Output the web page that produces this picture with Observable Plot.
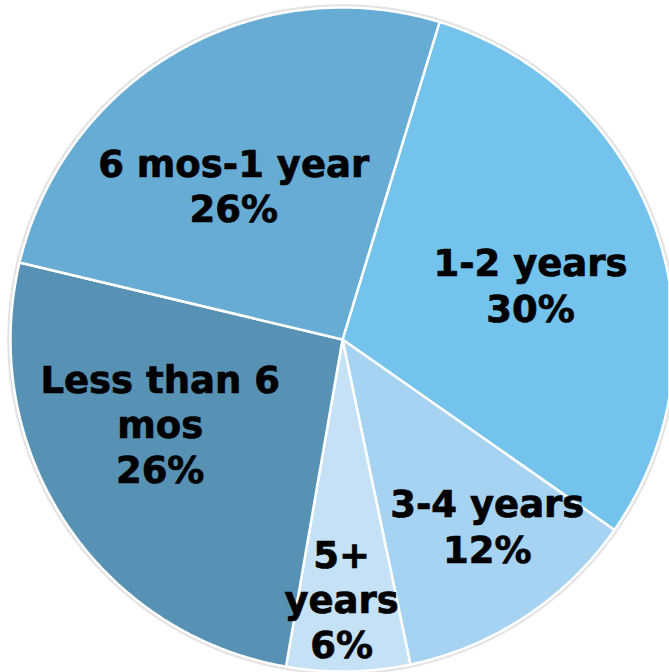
<!DOCTYPE html>
<html><head><meta charset="utf-8">
<script src="https://cdn.jsdelivr.net/npm/d3@7"></script>
<script src="https://cdn.jsdelivr.net/npm/@observablehq/plot@0.6"></script>
<style>html,body{margin:0;padding:0;background:#fff;overflow:hidden} svg{display:block}</style>
</head><body><div id="chart"></div>
<script>
// ---- data ----
const categories = ["1-2 years", "3-4 years", "5+ years", "Less than 6 mos", "6 mos-1 year"];
const labelTexts = ["1-2 years", "3-4 years", "5+\nyears", "Less than 6\nmos", "6 mos-1 year"];
const values = [30, 12, 6, 26, 26];
const colors = ["#73C3EC", "#A6D3F1", "#C5E1F6", "#5792B4", "#67ACD4"];

// ---- layout ----
const W = 669, H = 672;
const R = 332;
const startAngleDeg = 17;
const labelAngleDeg = [73.7, 142.1, 180.2, 245.2, 324.9];
const labelRadius = [0.59, 0.71, 0.78, 0.605, 0.57];
const viewDomain = {type: "MultiPoint", coordinates: [[-342, -339], [327, 333]]};

const rad = Math.PI / 180;
const pie = d3.pie().sort(null).value(d => d)
  .startAngle(startAngleDeg * rad).endAngle(startAngleDeg * rad + 2 * Math.PI)(values);

function pt(a, r) { return [r * Math.sin(a), -r * Math.cos(a)]; }

const slices = pie.map((p, i) => {
  const ring = [[0, 0]];
  const n = Math.max(2, Math.ceil((p.endAngle - p.startAngle) / (0.4 * rad)));
  for (let k = 0; k <= n; k++) ring.push(pt(p.startAngle + (p.endAngle - p.startAngle) * k / n, R));
  ring.push([0, 0]);
  return {type: "Feature", properties: {category: categories[i]}, geometry: {type: "Polygon", coordinates: [ring]}};
});

const halo = (() => {
  const ring = [];
  for (let k = 0; k <= 720; k++) ring.push(pt(k * 0.5 * rad, R + 1.5));
  return {type: "Feature", properties: {}, geometry: {type: "Polygon", coordinates: [ring]}};
})();

const labels = categories.map((c, i) => {
  const [x, y] = pt(labelAngleDeg[i] * rad, labelRadius[i] * R);
  return {x, y, text: labelTexts[i] + "\n" + values[i] + "%"};
});

const chart = Plot.plot({
  width: W, height: H,
  margin: 0,
  projection: {type: "identity", domain: viewDomain},
  color: {domain: categories, range: colors},
  style: {fontFamily: "'DejaVu Sans', Verdana, sans-serif", background: "#fff"},
  marks: [
    Plot.geo([halo], {fill: "none", stroke: "#e3e3e3", strokeWidth: 3.5}),
    Plot.geo(slices, {fill: d => d.properties.category, stroke: "white", strokeWidth: 2.5}),
    Plot.text(labels, {x: "x", y: "y", text: "text", fontSize: 37, fontWeight: "bold", fill: "black", stroke: "black", strokeWidth: 0.7, lineHeight: 1.22, textAnchor: "middle"})
  ]
});
document.getElementById("chart").appendChild(chart);
</script>
</body></html>
